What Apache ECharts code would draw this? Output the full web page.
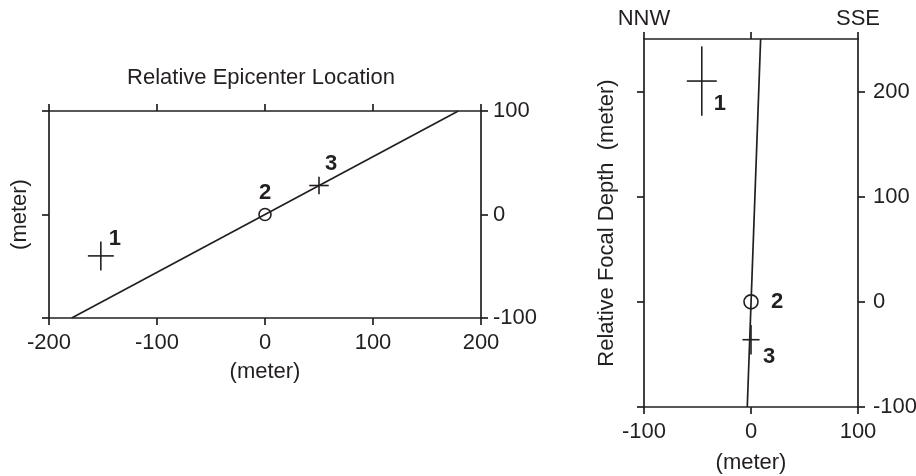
<!DOCTYPE html>
<html>
<head>
<meta charset="utf-8">
<script src="https://cdn.jsdelivr.net/npm/echarts@6/dist/echarts.min.js"></script>
<style>
  html, body { margin: 0; padding: 0; background: #fff; }
  #chart { width: 916px; height: 476px; }
</style>
</head>
<body>
<div id="chart"></div>
<script>
// 事件编号
var eventIds = ['1', '2', '3'];

// 震中相对位置 (meter)
var epiX = [-152, 0, 50];
var epiY = [-40, 0, 28];
var epiErrX = [12, 0, 9];
var epiErrY = [14, 0, 8.5];
var epiLineX = [-179, 179];
var epiLineY = [-100, 100];

// 相对震源深度剖面 (meter)
var depX = [-46, 0, 0];
var depY = [210, 0, -36];
var depErrX = [14, 0, 8];
var depErrY = [33, 0, 14];
var depLineX = [-3.5, 9];
var depLineY = [-100, 250];

// 刻度
var epiXTicks = [-200, -100, 0, 100, 200];
var epiYTicks = [-100, 0, 100];
var depXTicks = [-100, 0, 100];
var depYTicks = [-100, 0, 100, 200];
var depTopLabels = { '-100': 'NNW', '100': 'SSE' };

var ink = '#231f20';
var font = "'Liberation Sans', Arial, sans-serif";

// 标注文字偏移 (px)
var epiLabelOff = [[14, -17], [0, -22], [12, -22]];
var depLabelOff = [[18, 23], [26, 0], [18, 17]];

function buildData(xs, ys, exs, eys) {
  return xs.map(function (x, i) { return [x, ys[i], exs[i], eys[i], i]; });
}

function crossRenderer(offsets, radius) {
  return function (params, api) {
    var x = api.value(0), y = api.value(1), ex = api.value(2), ey = api.value(3);
    var idx = api.value(4);
    var c = api.coord([x, y]);
    var children = [];
    var st = { stroke: ink, lineWidth: 1.6, fill: null };
    if (ex === 0 && ey === 0) {
      children.push({ type: 'circle', shape: { cx: c[0], cy: c[1], r: radius }, style: st });
    } else {
      var l = api.coord([x - ex, y]), r = api.coord([x + ex, y]);
      var b = api.coord([x, y - ey]), t = api.coord([x, y + ey]);
      children.push({ type: 'line', shape: { x1: l[0], y1: l[1], x2: r[0], y2: r[1] }, style: st });
      children.push({ type: 'line', shape: { x1: b[0], y1: b[1], x2: t[0], y2: t[1] }, style: st });
    }
    var off = offsets[idx];
    children.push({
      type: 'text',
      x: c[0] + off[0],
      y: c[1] + off[1],
      style: {
        text: eventIds[idx], fill: ink, font: 'bold 22px ' + font,
        align: 'center', verticalAlign: 'middle'
      }
    });
    return { type: 'group', children: children };
  };
}

var lineStyle = { color: ink, width: 1.7 };
var labelStyle = { color: ink, fontSize: 22, fontFamily: font };

function xAx(grid, pos, min, max, ticks, extra) {
  var a = {
    type: 'value', gridIndex: grid, position: pos, min: min, max: max, interval: 100,
    splitLine: { show: false },
    axisLine: { show: true, onZero: false, lineStyle: lineStyle },
    axisTick: { show: true, inside: false, length: 7, lineStyle: lineStyle, customValues: ticks },
    axisLabel: { show: false }
  };
  return Object.assign(a, extra || {});
}

var myChart = echarts.init(document.getElementById('chart'), null, { renderer: 'canvas' });

var options = {
  backgroundColor: '#fff',
  animation: false,
  grid: [
    { left: 49, top: 111, width: 432, height: 207, containLabel: false, outerBoundsMode: 'none' },
    { left: 644, top: 39, width: 214, height: 368, containLabel: false, outerBoundsMode: 'none' }
  ],
  xAxis: [
    xAx(0, 'bottom', -200, 200, epiXTicks, {
      axisLabel: Object.assign({ show: true, margin: 14, customValues: epiXTicks }, labelStyle),
      name: '(meter)', nameLocation: 'middle', nameGap: 43, nameTextStyle: labelStyle
    }),
    xAx(0, 'top', -200, 200, epiXTicks, {
      name: 'Relative Epicenter Location', nameLocation: 'middle', nameGap: 22,
      nameTextStyle: Object.assign({ padding: [0, 8, 0, 0] }, labelStyle)
    }),
    xAx(1, 'bottom', -100, 100, depXTicks, {
      axisLabel: Object.assign({ show: true, margin: 14, customValues: depXTicks }, labelStyle),
      name: '(meter)', nameLocation: 'middle', nameGap: 45, nameTextStyle: labelStyle
    }),
    xAx(1, 'top', -100, 100, depXTicks, {
      axisLabel: Object.assign({
        show: true, margin: 9, customValues: [-100, 100],
        formatter: function (v) { return depTopLabels[String(v)] || ''; }
      }, labelStyle)
    })
  ],
  yAxis: [
    xAx(0, 'left', -100, 100, epiYTicks, {
      name: '(meter)', nameLocation: 'middle', nameGap: 18, nameTextStyle: labelStyle
    }),
    xAx(0, 'right', -100, 100, epiYTicks, {
      axisLabel: Object.assign({ show: true, margin: 12, customValues: epiYTicks }, labelStyle)
    }),
    xAx(1, 'left', -100, 250, depYTicks, {
      name: 'Relative Focal Depth  (meter)', nameLocation: 'middle', nameGap: 26,
      nameTextStyle: labelStyle
    }),
    xAx(1, 'right', -100, 250, depYTicks, {
      axisLabel: Object.assign({ show: true, margin: 15, customValues: depYTicks }, labelStyle)
    })
  ],
  series: [
    {
      type: 'line', xAxisIndex: 0, yAxisIndex: 0, symbol: 'none', silent: true,
      lineStyle: lineStyle,
      data: epiLineX.map(function (x, i) { return [x, epiLineY[i]]; })
    },
    {
      type: 'custom', xAxisIndex: 0, yAxisIndex: 0, silent: true,
      renderItem: crossRenderer(epiLabelOff, 6),
      data: buildData(epiX, epiY, epiErrX, epiErrY)
    },
    {
      type: 'line', xAxisIndex: 2, yAxisIndex: 2, symbol: 'none', silent: true,
      lineStyle: lineStyle,
      data: depLineX.map(function (x, i) { return [x, depLineY[i]]; })
    },
    {
      type: 'custom', xAxisIndex: 2, yAxisIndex: 2, silent: true,
      renderItem: crossRenderer(depLabelOff, 7),
      data: buildData(depX, depY, depErrX, depErrY)
    }
  ]
};
myChart.setOption(options);
</script>
</body>
</html>
